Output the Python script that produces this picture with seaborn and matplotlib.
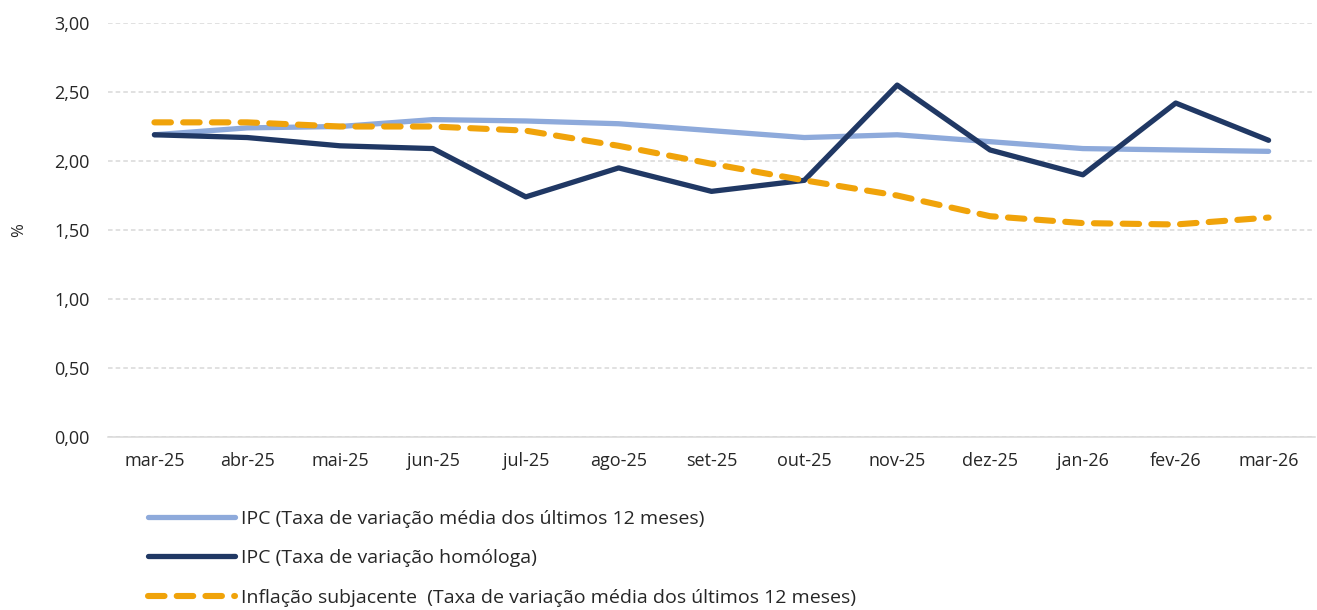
import matplotlib
matplotlib.use("Agg")
import matplotlib.pyplot as plt
import matplotlib.ticker as mticker
import seaborn as sns

# Data
meses = ["mar-25", "abr-25", "mai-25", "jun-25", "jul-25", "ago-25", "set-25",
         "out-25", "nov-25", "dez-25", "jan-26", "fev-26", "mar-26"]
ipc_media = [2.19, 2.24, 2.25, 2.30, 2.29, 2.27, 2.22, 2.17, 2.19, 2.14, 2.09, 2.08, 2.07]
ipc_homologa = [2.19, 2.17, 2.11, 2.09, 1.74, 1.95, 1.78, 1.86, 2.55, 2.08, 1.90, 2.42, 2.15]
subjacente = [2.28, 2.28, 2.25, 2.25, 2.22, 2.11, 1.98, 1.86, 1.75, 1.60, 1.55, 1.54, 1.59]

labels = ["IPC (Taxa de variação média dos últimos 12 meses)",
          "IPC (Taxa de variação homóloga)",
          "Inflação subjacente  (Taxa de variação média dos últimos 12 meses)"]

sns.set_style("white")
plt.rcParams['font.family'] = ['Open Sans', 'DejaVu Sans']

fig = plt.figure(figsize=(13.17, 6.10), dpi=100)
ax = fig.add_axes([108 / 1317, 1 - 437 / 610, (1315 - 108) / 1317, (437 - 23) / 610])

sns.lineplot(x=meses, y=ipc_media, ax=ax, color="#8eaadb", linewidth=3.8,
             solid_capstyle="round", sort=False, label=labels[0])
sns.lineplot(x=meses, y=ipc_homologa, ax=ax, color="#203864", linewidth=3.8,
             solid_capstyle="round", sort=False, label=labels[1])
sns.lineplot(x=meses, y=subjacente, ax=ax, color="#f0a30a", linewidth=4.4,
             linestyle=(0, (2.7, 2.0)), dash_capstyle="round", sort=False, label=labels[2])

ax.set_xlim(-0.5, len(meses) - 0.5)
ax.set_ylim(0, 3)
ax.yaxis.set_major_locator(mticker.MultipleLocator(0.5))
ax.yaxis.set_major_formatter(mticker.FuncFormatter(lambda v, _: f"{v:.2f}".replace(".", ",")))
ax.grid(axis="y", color="#d9d9d9", linestyle=(0, (3, 2)), linewidth=1.1)
ax.set_axisbelow(True)

for s in ["top", "right", "left"]:
    ax.spines[s].set_visible(False)
ax.spines["bottom"].set_color("#d9d9d9")
ax.spines["bottom"].set_linewidth(1.1)

ax.set_xticks(range(len(meses)))
ax.set_xticklabels(meses)
ax.set_xticks([i - 0.5 for i in range(len(meses) + 1)], minor=True)
ax.tick_params(axis="x", which="major", length=0, pad=11, labelsize=13, labelcolor="#262626")
ax.tick_params(axis="x", which="minor", length=6, color="#d9d9d9", width=1.1)
ax.tick_params(axis="y", length=0, pad=13, labelsize=13, labelcolor="#262626")

ax.set_ylabel("%", fontsize=12, color="#262626", labelpad=20)
ax.set_xlabel("")

ax.legend(loc="upper left", bbox_to_anchor=(140 / 1317, 1 - 502 / 610),
          bbox_transform=fig.transFigure, frameon=False, fontsize=14,
          handlelength=4.5, handletextpad=0.3, labelspacing=1.1, borderaxespad=0,
          labelcolor="#262626")

fig.savefig("out.png", dpi=100)
